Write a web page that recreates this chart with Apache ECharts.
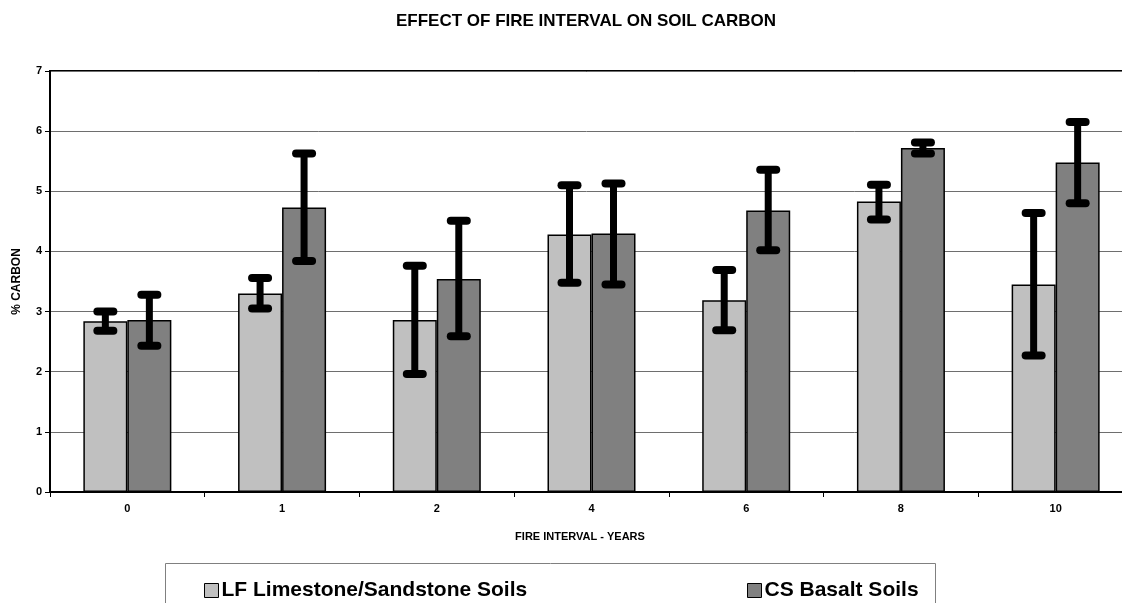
<!DOCTYPE html>
<html>
<head>
<meta charset="utf-8">
<script src="https://cdn.jsdelivr.net/npm/echarts@6/dist/echarts.min.js"></script>
<style>
  html, body { margin: 0; padding: 0; background: #fff; }
  #chart { width: 1122px; height: 603px; }
</style>
</head>
<body>
<div id="chart"></div>
<script>
// fire interval categories
const categories = ['0', '1', '2', '4', '6', '8', '10'];

// LF Limestone/Sandstone soils: mean and error bar ends
const lfValues = [2.84, 3.30, 2.86, 4.28, 3.19, 4.83, 3.45];
const lfLow = [2.68, 3.05, 1.96, 3.48, 2.69, 4.53, 2.27];
const lfHigh = [3.00, 3.56, 3.76, 5.10, 3.69, 5.11, 4.64];

// CS Basalt soils
const csValues = [2.86, 4.73, 3.54, 4.30, 4.68, 5.72, 5.48];
const csLow = [2.43, 3.84, 2.59, 3.45, 4.02, 5.63, 4.80];
const csHigh = [3.28, 5.63, 4.51, 5.13, 5.36, 5.81, 6.15];

const yTicks = [0, 1, 2, 3, 4, 5, 6, 7];

const FONT = '"Liberation Sans", Arial, sans-serif';
const BAR_W = 44;

function errorBar(offset) {
  return function (params, api) {
    const idx = api.value(0);
    const top = api.coord([idx, api.value(2)]);
    const bot = api.coord([idx, api.value(1)]);
    const x = top[0] + offset;
    const cap = { stroke: '#000', lineWidth: 8, lineCap: 'round' };
    return {
      type: 'group',
      children: [
        { type: 'line', shape: { x1: x, y1: top[1], x2: x, y2: bot[1] }, style: { stroke: '#000', lineWidth: 7 } },
        { type: 'line', shape: { x1: x - 8, y1: top[1], x2: x + 8, y2: top[1] }, style: cap },
        { type: 'line', shape: { x1: x - 8, y1: bot[1], x2: x + 8, y2: bot[1] }, style: cap }
      ]
    };
  };
}

const chart = echarts.init(document.getElementById('chart'));

const legendText = { fontFamily: FONT, fontSize: 21, fontWeight: 'bold', color: '#000', padding: [0, 0, 0, -2] };

const option = {
  animation: false,
  backgroundColor: '#fff',
  textStyle: { fontFamily: FONT },
  title: {
    text: 'EFFECT OF FIRE INTERVAL ON SOIL CARBON',
    left: 581, top: 8,
    textAlign: 'center',
    textStyle: { fontFamily: FONT, fontSize: 17, fontWeight: 'bold', color: '#000' }
  },
  legend: [
    {
      data: ['LF Limestone/Sandstone Soils'],
      left: 199, top: 575,
      itemWidth: 14, itemHeight: 14, itemGap: 0,
      icon: 'rect',
      itemStyle: { borderColor: '#000', borderWidth: 1 },
      textStyle: legendText
    },
    {
      data: ['CS Basalt Soils'],
      left: 742, top: 575,
      itemWidth: 14, itemHeight: 14, itemGap: 0,
      icon: 'rect',
      itemStyle: { borderColor: '#000', borderWidth: 1 },
      textStyle: legendText
    }
  ],
  graphic: [
    {
      type: 'rect',
      shape: { x: 165.5, y: 563.5, width: 770, height: 60 },
      style: { fill: 'none', stroke: '#808080', lineWidth: 1 },
      z: -1
    },
    {
      type: 'text',
      x: 580, y: 531,
      style: { text: 'FIRE INTERVAL - YEARS', font: 'bold 11px ' + FONT, fill: '#000', align: 'center' }
    }
  ],
  grid: {
    left: 50, top: 71, width: 1083, height: 421,
    outerBoundsMode: 'none',
    containLabel: false,
    show: true, borderColor: '#000', borderWidth: 2, backgroundColor: '#fff'
  },
  xAxis: {
    type: 'category',
    data: categories,
    axisLine: { lineStyle: { color: '#000', width: 2 } },
    axisTick: { show: true, length: 5, lineStyle: { color: '#000', width: 1 } },
    axisLabel: { fontFamily: FONT, fontSize: 11, fontWeight: 'bold', color: '#000', margin: 11 },
    splitLine: { show: false }
  },
  yAxis: {
    type: 'value',
    min: yTicks[0], max: yTicks[yTicks.length - 1], interval: 1,
    name: '% CARBON',
    nameLocation: 'middle',
    nameGap: 27,
    nameRotate: 90,
    nameTextStyle: { fontFamily: FONT, fontSize: 12, fontWeight: 'bold', color: '#000' },
    axisLine: { show: true, lineStyle: { color: '#000', width: 2 } },
    axisTick: { show: true, length: 5, lineStyle: { color: '#000', width: 1 } },
    axisLabel: { fontFamily: FONT, fontSize: 11, fontWeight: 'bold', color: '#000', margin: 8 },
    splitLine: { show: true, lineStyle: { color: '#6e6e6e', width: 1 } }
  },
  series: [
    {
      name: 'LF Limestone/Sandstone Soils',
      type: 'bar',
      data: lfValues,
      barWidth: BAR_W,
      barGap: '0%',
      itemStyle: { color: '#c0c0c0', borderColor: '#000', borderWidth: 1.5 }
    },
    {
      name: 'CS Basalt Soils',
      type: 'bar',
      data: csValues,
      barWidth: BAR_W,
      barGap: '0%',
      itemStyle: { color: '#808080', borderColor: '#000', borderWidth: 1.5 }
    },
    {
      type: 'custom',
      renderItem: errorBar(-BAR_W / 2),
      data: lfLow.map((lo, i) => [i, lo, lfHigh[i]]),
      encode: { x: 0, y: [1, 2] },
      z: 10
    },
    {
      type: 'custom',
      renderItem: errorBar(BAR_W / 2),
      data: csLow.map((lo, i) => [i, lo, csHigh[i]]),
      encode: { x: 0, y: [1, 2] },
      z: 10
    }
  ]
};

chart.setOption(option);
</script>
</body>
</html>
